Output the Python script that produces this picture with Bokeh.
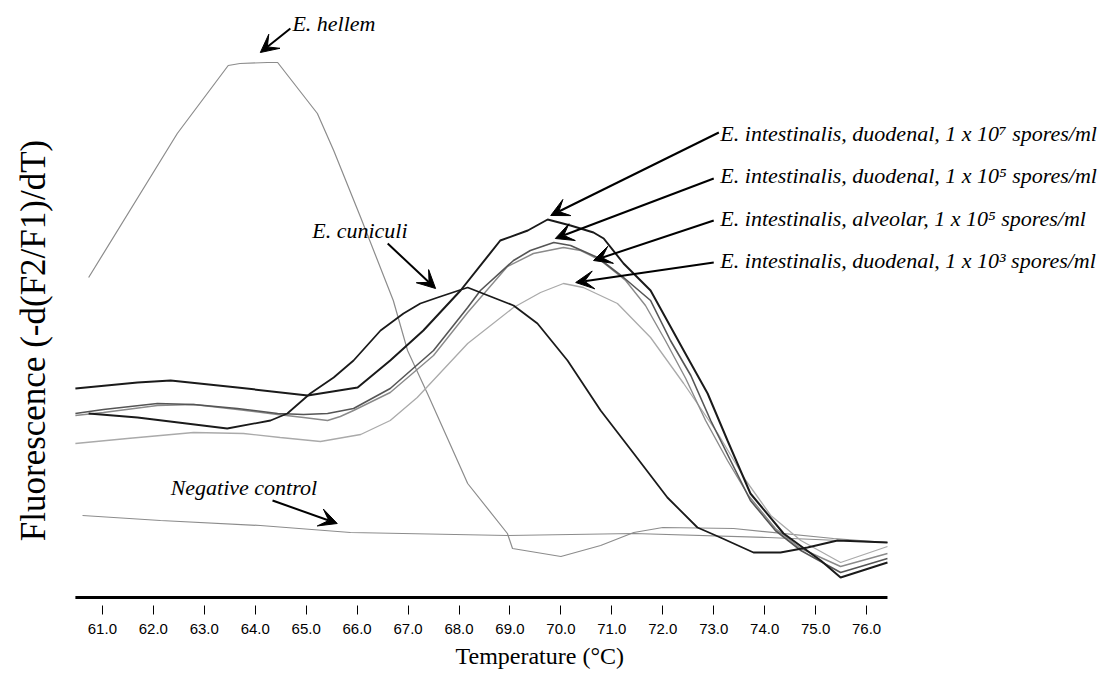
import math
from bokeh.plotting import figure
from bokeh.models import (Range1d, FixedTicker, Label, Arrow, VeeHead,
                          Title, NumeralTickFormatter)
from bokeh.embed import file_html
from bokeh.resources import INLINE

# ---------------- data ----------------
tick_values = [61, 62, 63, 64, 65, 66, 67, 68, 69, 70, 71, 72, 73, 74, 75, 76]
axis_start, axis_end = 60.47, 76.41

temp_hellem = [60.73, 62.47, 63.47, 63.70, 64.24, 64.44, 65.22, 65.54, 66.07, 66.71,
               66.99, 67.38, 68.03, 68.17, 68.95, 69.05, 70.00, 70.78, 71.43, 72.00,
               73.39, 75.35, 76.41]
fl_hellem = [3.28, 4.72, 5.40, 5.42, 5.43, 5.43, 4.92, 4.55, 3.88, 3.05,
             2.55, 2.12, 1.38, 1.22, 0.72, 0.57, 0.49, 0.60, 0.73, 0.78,
             0.77, 0.67, 0.63]

temp_cuniculi = [60.73, 61.69, 63.45, 64.30, 64.63, 65.08, 65.54, 65.93, 66.46, 66.91,
                 67.24, 67.58, 68.17, 69.07, 69.54, 70.13, 70.78, 71.43, 72.09, 72.68,
                 73.13, 73.78, 74.31, 74.84, 75.43, 76.41]
fl_cuniculi = [1.92, 1.88, 1.77, 1.85, 1.92, 2.12, 2.28, 2.45, 2.75, 2.92,
               3.02, 3.08, 3.18, 3.00, 2.82, 2.45, 1.95, 1.52, 1.08, 0.78,
               0.68, 0.53, 0.53, 0.58, 0.65, 0.63]

temp_duod7 = [60.47, 61.69, 62.34, 63.65, 65.03, 66.01, 66.65, 67.30, 68.03, 68.81,
              69.35, 69.74, 70.19, 70.64, 70.84, 71.23, 71.76, 72.41, 72.88, 73.27,
              73.72, 74.37, 75.10, 75.49, 76.41]
fl_duod7 = [2.17, 2.23, 2.25, 2.18, 2.10, 2.18, 2.45, 2.75, 3.15, 3.65,
            3.75, 3.86, 3.80, 3.73, 3.67, 3.42, 3.15, 2.55, 2.12, 1.65,
            1.12, 0.72, 0.45, 0.28, 0.43]

temp_duod5 = [60.47, 61.02, 62.08, 62.79, 63.65, 64.44, 64.95, 65.42, 65.93, 66.65,
              67.50, 68.17, 68.42, 69.07, 69.40, 69.86, 70.19, 70.72, 71.23, 71.76,
              72.15, 72.55, 72.94, 73.33, 73.72, 74.21, 74.71, 75.49, 76.41]
fl_duod5 = [1.92, 1.96, 2.02, 2.01, 1.97, 1.92, 1.91, 1.92, 1.97, 2.17,
            2.55, 2.98, 3.15, 3.45, 3.55, 3.63, 3.60, 3.48, 3.28, 3.05,
            2.65, 2.30, 1.85, 1.45, 1.05, 0.75, 0.55, 0.33, 0.47]

temp_alv5 = [60.47, 61.02, 62.08, 62.79, 63.65, 64.44, 64.95, 65.42, 65.67, 65.93,
             66.65, 67.50, 68.17, 68.95, 69.46, 70.05, 70.39, 70.78, 71.27, 71.66,
             72.05, 72.45, 72.84, 73.27, 73.68, 74.21, 74.71, 75.49, 76.41]
fl_alv5 = [1.90, 1.93, 2.00, 2.01, 1.96, 1.91, 1.88, 1.85, 1.89, 1.95,
           2.13, 2.50, 2.93, 3.39, 3.52, 3.58, 3.55, 3.45, 3.25, 3.00,
           2.65, 2.27, 1.85, 1.45, 1.10, 0.77, 0.57, 0.39, 0.52]

temp_duod3 = [60.47, 61.49, 62.79, 63.77, 64.49, 65.28, 66.07, 66.65, 67.18, 68.17,
              69.07, 69.60, 70.05, 70.44, 71.11, 71.76, 72.41, 73.08, 73.63, 74.12,
              74.71, 75.49, 76.41]
fl_duod3 = [1.62, 1.67, 1.73, 1.72, 1.68, 1.64, 1.71, 1.85, 2.08, 2.62,
            2.98, 3.13, 3.22, 3.18, 3.02, 2.68, 2.22, 1.72, 1.25, 0.90,
            0.65, 0.43, 0.59]

temp_negative = [60.61, 62.14, 64.10, 65.87, 68.95, 71.43, 74.06, 76.41]
fl_negative = [0.90, 0.85, 0.80, 0.73, 0.70, 0.72, 0.68, 0.63]

# ---------------- figure ----------------
SERIF = "Liberation Serif"
p = figure(width=1104, height=679, output_backend="svg", toolbar_location=None,
           x_range=Range1d(59.0, 80.67), y_range=Range1d(0, 5.97),
           min_border_left=0, min_border_right=0, min_border_top=8,
           min_border_bottom=74)
p.outline_line_color = None
p.grid.visible = False
p.background_fill_color = "white"

# x axis
xa = p.xaxis[0]
xa.ticker = FixedTicker(ticks=tick_values)
xa.formatter = NumeralTickFormatter(format="0.0")
xa.axis_line_color = None
xa.major_tick_out = 9
xa.major_tick_in = 0
xa.major_tick_line_color = "black"
xa.major_tick_line_width = 1
xa.minor_tick_line_color = None
xa.major_label_text_font = "Liberation Sans"
xa.major_label_text_font_size = "15px"
xa.major_label_text_color = "black"
xa.major_label_standoff = 9

p.add_layout(Title(text="Temperature (°C)", align="left", offset=455,
                   text_font=SERIF, text_font_size="24px", text_color="black",
                   text_font_style="normal", standoff=8), "below")

# y axis: hidden, its title drawn as a rotated label
p.yaxis.visible = False
p.add_layout(Label(x=59.64, y=2.65, text="Fluorescence (-d(F2/F1)/dT)",
                   angle=math.pi / 2, text_font=SERIF, text_font_size="35px",
                   text_color="black", text_align="center",
                   text_baseline="middle"))

# thick baseline above the tick marks, spanning the axis extent
p.line([axis_start, axis_end], [0.08, 0.08], line_color="black", line_width=3)

# curves
p.line(temp_negative, fl_negative, line_color="#8c8c8c", line_width=1.2)
p.line(temp_hellem, fl_hellem, line_color="#8c8c8c", line_width=1.2)
p.line(temp_duod3, fl_duod3, line_color="#aaaaaa", line_width=1.3)
p.line(temp_alv5, fl_alv5, line_color="#8a8a8a", line_width=1.4)
p.line(temp_duod5, fl_duod5, line_color="#555555", line_width=1.6)
p.line(temp_cuniculi, fl_cuniculi, line_color="#1a1a1a", line_width=1.8)
p.line(temp_duod7, fl_duod7, line_color="#1a1a1a", line_width=2)

# annotations
def label(x, y, text, size="22px"):
    p.add_layout(Label(x=x, y=y, text=text, text_font=SERIF, text_font_size=size,
                       text_font_style="italic", text_color="black",
                       text_align="left", text_baseline="middle"))

def arrow(x0, y0, x1, y1):
    p.add_layout(Arrow(x_start=x0, y_start=y0, x_end=x1, y_end=y1,
                       line_color="black", line_width=2,
                       end=VeeHead(size=18, fill_color="black", line_color="black",
                                   line_width=1)))

label(64.73, 5.82, "E. hellem")
arrow(64.69, 5.77, 64.10, 5.53)

label(65.12, 3.75, "E. cuniculi")
arrow(66.60, 3.62, 67.54, 3.17)

label(62.34, 1.18, "Negative control")
arrow(64.34, 1.05, 65.61, 0.82)

label(73.13, 4.72, "E. intestinalis, duodenal, 1 x 10\u2077 spores/ml")
arrow(73.10, 4.73, 69.80, 3.90)
label(73.13, 4.30, "E. intestinalis, duodenal, 1 x 10\u2075 spores/ml")
arrow(73.00, 4.27, 69.89, 3.67)
label(73.13, 3.87, "E. intestinalis, alveolar, 1 x 10\u2075 spores/ml")
arrow(73.00, 3.85, 70.64, 3.45)
label(73.13, 3.45, "E. intestinalis, duodenal, 1 x 10\u00b3 spores/ml")
arrow(73.00, 3.43, 70.29, 3.23)

open("out.html", "w").write(file_html(p, INLINE))
